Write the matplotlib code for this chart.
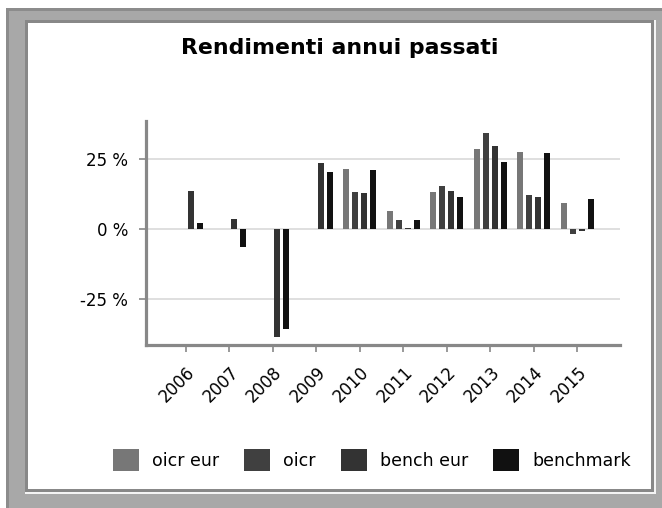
import matplotlib.pyplot as plt
import matplotlib.transforms as mtransforms
from matplotlib.patches import Rectangle
import numpy as np

years = ['2006', '2007', '2008', '2009', '2010', '2011', '2012', '2013', '2014', '2015']
series_names = ['oicr eur', 'oicr', 'bench eur', 'benchmark']
oicr_eur = [np.nan, np.nan, np.nan, np.nan, 21.3, 6.3, 13.1, 28.5, 27.4, 9.2]
oicr = [np.nan, np.nan, np.nan, np.nan, 13.1, 3.1, 15.2, 34.2, 12.0, -1.8]
bench_eur = [13.5, 3.5, -38.6, 23.5, 12.7, 0.2, 13.5, 29.5, 11.3, -0.7]
benchmark = [1.9, -6.4, -35.7, 20.2, 20.9, 3.1, 11.3, 23.8, 27.0, 10.6]
colors = ['#777777', '#404040', '#333333', '#111111']

W, H = 662, 508
fig = plt.figure(figsize=(W / 100, H / 100), dpi=100, facecolor='white')


def box(x0, y0, x1, y1, color):
    # pixel coords with origin at top-left
    fig.patches.append(Rectangle((x0 / W, 1 - y1 / H), (x1 - x0) / W, (y1 - y0) / H,
                                 transform=fig.transFigure, facecolor=color,
                                 edgecolor='none', zorder=-10))


box(6, 8, W, H, '#8c8c8c')
box(9, 11, W, H, '#a8a8a8')
box(25, 20, 656, 494, '#f4f4f4')
box(25, 20, 654, 492, '#888888')
box(28, 23, 651, 489, 'white')

ax = fig.add_axes([146 / W, 1 - 345 / H, (620 - 146) / W, (345 - 121) / H])
ax.set_facecolor('none')

x = np.arange(len(years))
step, width = 0.207, 0.138
for i, (vals, name, c) in enumerate(zip([oicr_eur, oicr, bench_eur, benchmark], series_names, colors)):
    ax.bar(x + (i - 1.5) * step, vals, width=width, color=c, label=name, zorder=3)

ax.set_xlim(-0.92, 9.98)
ax.set_ylim(-41.5, 38.4)
ax.set_yticks([-25, 0, 25])
ax.set_yticklabels(['-25 %', '0 %', '25 %'])
ax.set_xticks(x)
ax.set_xticklabels(years, rotation=45, ha='right', rotation_mode='anchor')
offset = mtransforms.ScaledTranslation(6 / 100, -1 / 100, fig.dpi_scale_trans)
for lbl in ax.get_xticklabels():
    lbl.set_transform(lbl.get_transform() + offset)

ax.grid(axis='y', color='#d9d9d9', linewidth=1.2, zorder=0)
for s in ['top', 'right']:
    ax.spines[s].set_visible(False)
for s in ['left', 'bottom']:
    ax.spines[s].set_color('#888888')
    ax.spines[s].set_linewidth(2.3)
ax.tick_params(colors='#888888', length=5, width=1.2, labelcolor='black', labelsize=12)
ax.tick_params(axis='y', pad=8)
ax.tick_params(axis='x', pad=8)

fig.text(340 / W, 1 - 48 / H, 'Rendimenti annui passati', ha='center', va='center',
         fontsize=15.8, fontweight='bold')

fig.legend(loc='center', bbox_to_anchor=(372 / W, 1 - 460 / H), ncol=4, frameon=False,
           fontsize=12.5, handlelength=1.5, handleheight=1.5, handletextpad=0.75,
           columnspacing=1.45)

fig.savefig('out.png', dpi=100)
